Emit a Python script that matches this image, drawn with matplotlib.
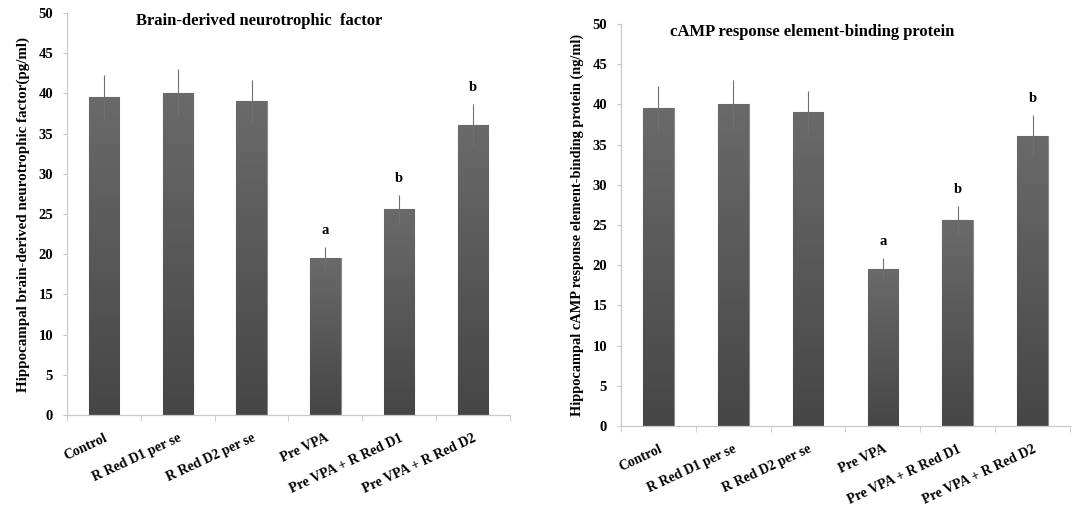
import numpy as np
import matplotlib
matplotlib.use("Agg")
import matplotlib.pyplot as plt
from matplotlib.colors import LinearSegmentedColormap

plt.rcParams['font.family'] = ['Liberation Serif', 'DejaVu Serif']
plt.rcParams['font.weight'] = 'bold'

groups = ['Control', 'R Red D1 per se', 'R Red D2 per se', 'Pre VPA',
          'Pre VPA + R Red D1', 'Pre VPA + R Red D2']
bdnf = [39.5, 40.1, 39.0, 19.5, 25.6, 36.1]
bdnf_err = [2.8, 2.9, 2.7, 1.4, 1.8, 2.6]
creb = [39.5, 40.1, 39.0, 19.5, 25.6, 36.1]
creb_err = [2.8, 2.9, 2.7, 1.4, 1.8, 2.6]
letters = ['', '', '', 'a', 'b', 'b']

grey_cmap = LinearSegmentedColormap.from_list('bar', ['#464646', '#6a6a6a'])


def panel(ax, vals, errs, title, ylabel, title_x, ylab_size):
    x = np.arange(len(groups))
    bars = ax.bar(x, vals, width=0.41, color='#565656', edgecolor='#8a8a8a',
                  linewidth=0.8, zorder=2)
    # vertical shading inside each bar
    for b in bars:
        x0, y0 = b.get_x(), b.get_y()
        w, h = b.get_width(), b.get_height()
        im = ax.imshow(np.linspace(0, 1, 100).reshape(-1, 1), cmap=grey_cmap,
                       extent=[x0, x0 + w, y0, y0 + h], origin='lower',
                       aspect='auto', zorder=2.1)
        im.set_clip_path(b)
    ax.errorbar(x, vals, yerr=errs, fmt='none', ecolor='#707070', elinewidth=0.8,
                capsize=0, zorder=3)
    for xi, v, e, l in zip(x, vals, errs, letters):
        if l:
            ax.text(xi, v + e + 1.2, l, ha='center', va='bottom', fontsize=10.5,
                    fontweight='bold')
    ax.set_xlim(-0.5, len(groups) - 0.5)
    ax.set_ylim(0, 50)
    ax.set_yticks(range(0, 51, 5))
    ax.set_xticks(x)
    ax.set_xticklabels(groups, rotation=25, ha='right', rotation_mode='anchor',
                       fontsize=10, fontweight='bold')
    ax.set_xticks(np.arange(-0.5, len(groups), 1), minor=True)
    ax.tick_params(axis='x', which='major', length=0, pad=12)
    ax.tick_params(axis='x', which='minor', length=4, color='#c8c8c8', direction='out')
    ax.tick_params(axis='y', length=3, color='#c8c8c8', labelsize=10.5, pad=7)
    for lab in ax.get_yticklabels():
        lab.set_fontweight('bold')
    for s in ['top', 'right']:
        ax.spines[s].set_visible(False)
    for s in ['left', 'bottom']:
        ax.spines[s].set_color('#c8c8c8')
        ax.spines[s].set_linewidth(0.9)
    ax.set_ylabel(ylabel, fontsize=ylab_size, fontweight='bold', labelpad=6)
    ax.text(title_x, 49.0, title, ha='center', va='center', fontsize=12, fontweight='bold')


fig = plt.figure(figsize=(10.73, 5.13), dpi=100)
ax1 = fig.add_axes([0.0624, 0.191, 0.4129, 0.7836])
ax2 = fig.add_axes([0.5787, 0.1696, 0.4185, 0.7836])

panel(ax1, bdnf, bdnf_err, 'Brain-derived neurotrophic  factor',
      'Hippocampal brain-derived neurotrophic factor(pg/ml)', 2.1, 10.8)
panel(ax2, creb, creb_err, 'cAMP response element-binding protein',
      'Hippocampal cAMP response element-binding protein (ng/ml)', 2.06, 10.4)

fig.savefig('out.png', dpi=100)
